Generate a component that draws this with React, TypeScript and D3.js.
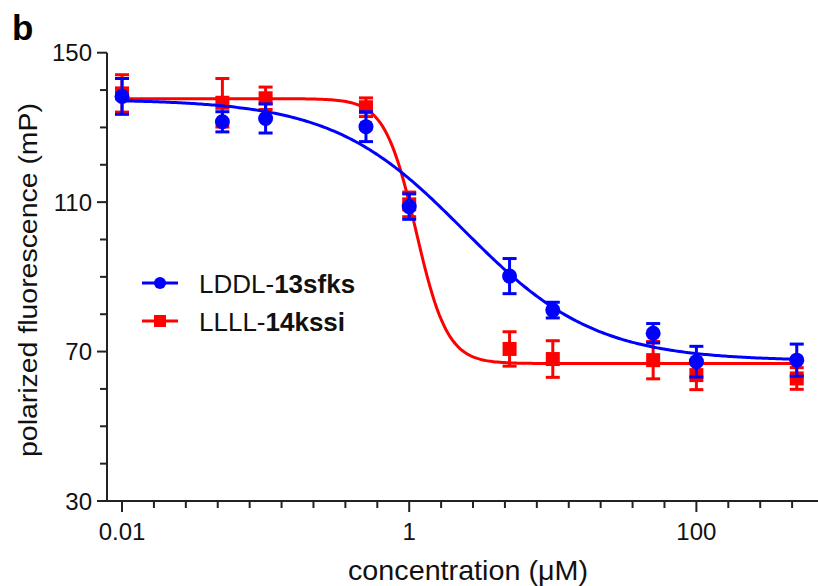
import React, { useEffect } from 'react';
import * as d3 from 'd3';

// concentrations (uM)
const concentrations = [0.01, 0.05, 0.1, 0.5, 1, 5, 10, 50, 100, 500];

// LDDL-13sfks (blue)
const blueMean = [138.3, 131.5, 132.4, 130.2, 108.8, 90.2, 81.1, 74.9, 67.3, 67.7];
const blueErr = [4.8, 2.7, 3.9, 4.0, 3.4, 4.7, 2.1, 2.6, 4.1, 4.3];

// LLLL-14kssi (red)
const redMean = [139.1, 136.6, 137.8, 135.4, 109.4, 70.7, 68.0, 67.7, 63.7, 62.8];
const redErr = [5.0, 6.5, 3.0, 2.5, 3.3, 4.6, 4.9, 5.0, 3.9, 2.9];

// four-parameter logistic fits: [top, bottom, IC50, hill]
const blueFit = [137.5, 67.5, 2.4, 0.95];
const redFit = [137.7, 66.8, 1.116, 4];

const yTicks = [30, 70, 110, 150];
const yMinor = [40, 50, 60, 80, 90, 100, 120, 130, 140];
const xTickLabels = ['0.01', '1', '100'];

const W = 818;
const H = 586;
const FONT = '"Liberation Sans", Arial, Helvetica, sans-serif';

const x = d3.scaleLog().domain([0.00786, 703]).range([107, 818]);
const y = d3.scaleLinear().domain([30, 150]).range([501, 52.7]);

const logistic = (fit: number[], c: number) => {
  const [top, bottom, ic50, hill] = fit;
  return bottom + (top - bottom) / (1 + Math.pow(c / ic50, hill));
};

const fitPath = (fit: number[]) => {
  const pts = d3.range(0, 301).map((i) => Math.pow(10, -2 + (i / 300) * Math.log10(50000)));
  return d3
    .line<number>()
    .x((c) => x(c))
    .y((c) => y(logistic(fit, c)))(pts) as string;
};

// x ticks evenly spaced: 9 intervals per two decades
const xTickVals = d3.range(0, 22).map((k) => Math.pow(10, -2 + (2 * k) / 9));

const ErrorBars = ({ means, errs, color }: { means: number[]; errs: number[]; color: string }) => (
  <g stroke={color} strokeWidth={3} fill="none">
    {concentrations.map((c, i) => (
      <g key={i}>
        <line x1={x(c)} x2={x(c)} y1={y(means[i] + errs[i])} y2={y(means[i] - errs[i])} />
        <line x1={x(c) - 7} x2={x(c) + 7} y1={y(means[i] + errs[i])} y2={y(means[i] + errs[i])} />
        <line x1={x(c) - 7} x2={x(c) + 7} y1={y(means[i] - errs[i])} y2={y(means[i] - errs[i])} />
      </g>
    ))}
  </g>
);

export default function App() {
  useEffect(() => {
    document.body.style.margin = '0';
  }, []);

  const blue = '#0000ff';
  const red = '#ff0000';
  const axisColor = '#222';

  return (
    <svg width={W} height={H} style={{ display: 'block', background: '#fff' }} fontFamily={FONT}>
      <text x={12} y={40} fontSize={35} fontWeight="bold" fill="#000">b</text>

      {/* y axis */}
      <line x1={107} x2={107} y1={y(150)} y2={y(30) + 1} stroke={axisColor} strokeWidth={2} />
      {yTicks.map((t) => (
        <g key={t}>
          <line x1={97} x2={107} y1={y(t)} y2={y(t)} stroke={axisColor} strokeWidth={2} />
          <text x={92} y={y(t)} dy="0.36em" textAnchor="end" fontSize={24} fill="#111">{t}</text>
        </g>
      ))}
      {yMinor.map((t) => (
        <line key={t} x1={100} x2={107} y1={y(t)} y2={y(t)} stroke={axisColor} strokeWidth={2} />
      ))}
      <text
        transform="translate(37, 280) rotate(-90)"
        textAnchor="middle"
        fontSize={25}
        textLength={354}
        lengthAdjust="spacingAndGlyphs"
        fill="#111"
      >
        polarized fluorescence (mP)
      </text>

      {/* x axis */}
      <line x1={106} x2={818} y1={501} y2={501} stroke={axisColor} strokeWidth={2} />
      {xTickVals.map((t, k) => (
        <line
          key={k}
          x1={x(t)}
          x2={x(t)}
          y1={501}
          y2={k % 9 === 0 ? 512 : 508}
          stroke={axisColor}
          strokeWidth={2}
        />
      ))}
      {xTickLabels.map((l) => (
        <text key={l} x={x(+l)} y={540} textAnchor="middle" fontSize={24} fill="#111">{l}</text>
      ))}
      <text x={468} y={580} textAnchor="middle" fontSize={28} textLength={240} lengthAdjust="spacingAndGlyphs" fill="#111">
        concentration (μM)
      </text>

      {/* red series */}
      <path d={fitPath(redFit)} fill="none" stroke={red} strokeWidth={3} />
      <ErrorBars means={redMean} errs={redErr} color={red} />
      {concentrations.map((c, i) => (
        <rect key={i} x={x(c) - 7} y={y(redMean[i]) - 7} width={14} height={14} fill={red} />
      ))}

      {/* blue series */}
      <path d={fitPath(blueFit)} fill="none" stroke={blue} strokeWidth={3} />
      <ErrorBars means={blueMean} errs={blueErr} color={blue} />
      {concentrations.map((c, i) => (
        <circle key={i} cx={x(c)} cy={y(blueMean[i])} r={7.5} fill={blue} />
      ))}

      {/* legend */}
      <line x1={142} x2={178} y1={283} y2={283} stroke={blue} strokeWidth={3} />
      <circle cx={160} cy={283} r={6} fill={blue} />
      <text x={199} y={293} fontSize={26} fill="#111">
        LDDL-<tspan fontWeight="bold">13sfks</tspan>
      </text>
      <line x1={142} x2={178} y1={321} y2={321} stroke={red} strokeWidth={3} />
      <rect x={154} y={315} width={12} height={12} fill={red} />
      <text x={199} y={331} fontSize={26} fill="#111">
        LLLL-<tspan fontWeight="bold">14kssi</tspan>
      </text>
    </svg>
  );
}
